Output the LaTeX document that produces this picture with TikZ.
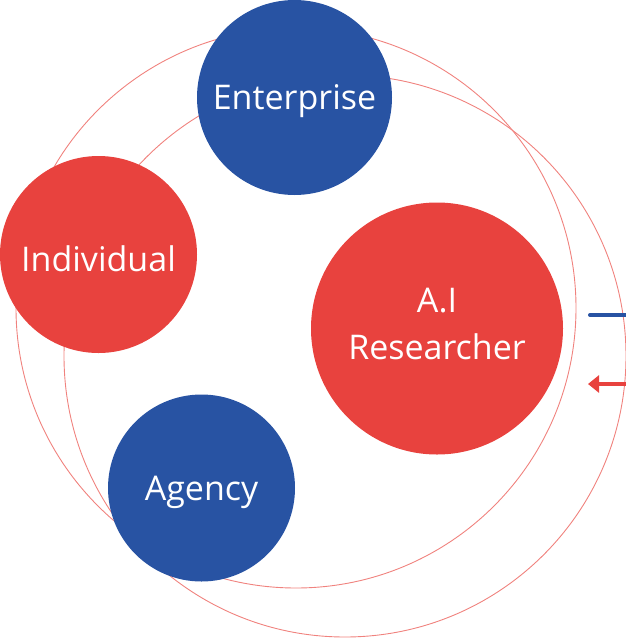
\documentclass[tikz,border=0pt]{standalone}
\usepackage{fontspec}
\setmainfont{Open Sans}
\usetikzlibrary{arrows.meta}

\definecolor{ringred}{HTML}{F0827E}
\definecolor{discred}{HTML}{E8423E}
\definecolor{discblue}{HTML}{2853A3}

\tikzset{
  disc/.style={circle, inner sep=0pt, text=white, align=center,
    text height=24pt, text depth=0pt,
    font=\fontsize{34}{47}\selectfont},
  ring/.style={draw=ringred, line width=0.9pt},
}

\begin{document}
\begin{tikzpicture}[x=1pt,y=-1pt]
  \useasboundingbox (0,0) rectangle (626,638);

  % Draw the rings
  \draw[ring] (296,308) circle[radius=280];
  \draw[ring] (345,356) circle[radius=281];

  % Add the discs
  \node[disc, fill=discblue, minimum size=195pt] (enterprise) at (294.5,97.5) {Enterprise};
  \node[disc, fill=discred, minimum size=197pt, text height=34pt] (individual) at (98.5,254.5) {Individual};
  \node[disc, fill=discred, minimum size=252pt, text height=71pt, text depth=9pt] (researcher) at (437,328.5) {A.I\\Researcher};
  \node[disc, fill=discblue, minimum size=187pt] (agency) at (201.5,488) {Agency};

  % Draw the side arrows
  \coordinate (bluestart) at (590,315);
  \coordinate (blueend) at (626,315);
  \coordinate (redstart) at (626,384);
  \coordinate (redend) at (588,384);

  \draw[discblue, line width=4pt, line cap=round] (bluestart) -- (blueend);
  \draw[discred, line width=4pt, -{Triangle[width=17pt,length=11pt]}] (redstart) -- (redend);
\end{tikzpicture}
\end{document}
